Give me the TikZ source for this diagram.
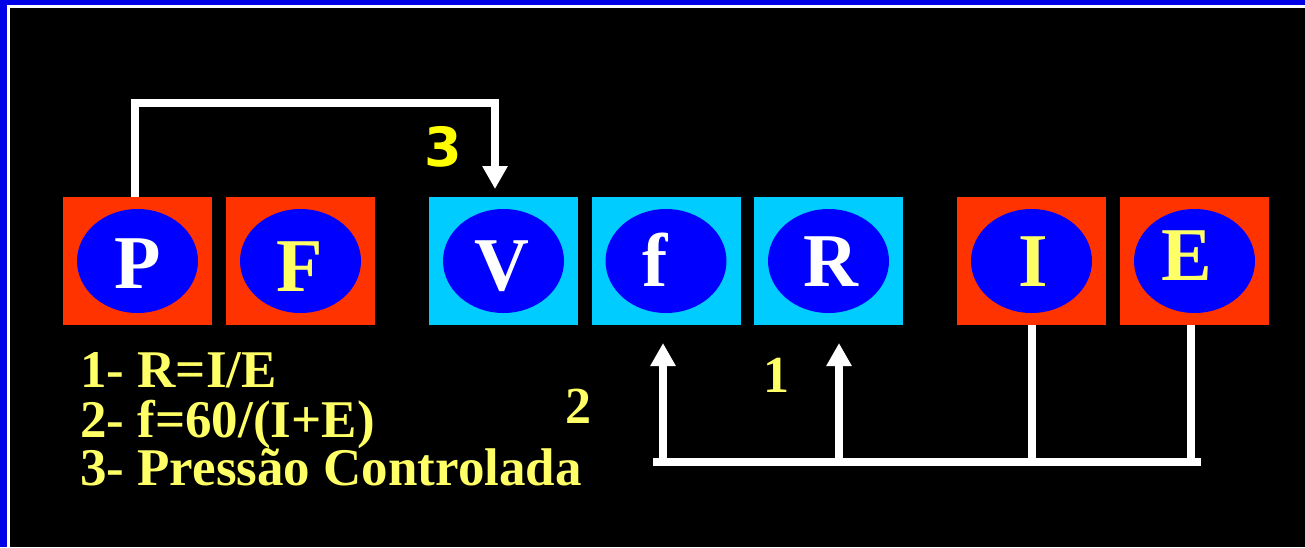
\documentclass[tikz,border=0pt]{standalone}
\usepackage{fontspec}
\setmainfont{Liberation Serif}
\newfontfamily\labsans{DejaVu Sans}
\usetikzlibrary{shapes.geometric,arrows.meta,calc}
\definecolor{bordblue}{RGB}{0,0,230}
\definecolor{boxred}{RGB}{255,51,0}
\definecolor{boxcyan}{RGB}{0,204,255}
\definecolor{ellblue}{RGB}{0,0,255}
\definecolor{txtyellow}{RGB}{255,255,102}
\definecolor{labyellow}{RGB}{255,255,0}
\tikzset{
  cellbox/.style={rectangle, minimum width=149pt, minimum height=128pt, inner sep=0pt, draw=none},
  redbox/.style={cellbox, fill=boxred},
  cyanbox/.style={cellbox, fill=boxcyan},
  oval/.style={ellipse, fill=ellblue, minimum width=121pt, minimum height=104pt, inner sep=0pt, draw=none},
  letter/.style={anchor=base, inner sep=0pt, font=\fontsize{76}{80}\selectfont\bfseries},
  conn/.style={draw=white, line width=8pt},
  tipped/.style={-{Triangle[width=24pt,length=23pt]}},
  legend/.style={anchor=base west, inner sep=0pt, text=txtyellow, font=\fontsize{53}{60}\selectfont\bfseries},
  numlab/.style={anchor=base, inner sep=0pt, text=txtyellow, font=\fontsize{52}{60}\selectfont\bfseries},
}
\newcommand{\mkcell}[7]{%
  \node[#3] (#1) at (#2,261) {};
  \node[oval] (#1o) at (#1.center) {};
  \node[letter, text=#5] (#1l) at (#6,#7) {#4};
}
\begin{document}
\begin{tikzpicture}[x=1pt,y=-1pt]
\useasboundingbox (0,0) rectangle (1305,547);
\fill[bordblue] (0,0) rectangle (1305,547);
\fill[white] (7,5) rectangle (1305,547);
\fill[black] (9.5,7.5) rectangle (1305,547);

\mkcell{P}{137.5}{redbox}{P}{white}{138}{288}
\mkcell{F}{300.5}{redbox}{F}{txtyellow}{299.5}{291}
\mkcell{V}{503.5}{cyanbox}{V}{white}{501.5}{290}
\mkcell{f}{666}{cyanbox}{f}{white}{655}{286}
\mkcell{R}{828.5}{cyanbox}{R}{white}{830.5}{286}
\mkcell{I}{1031.5}{redbox}{I}{txtyellow}{1033}{286}
\mkcell{E}{1194.5}{redbox}{E}{txtyellow}{1187}{280}

% top connector P -> V
\coordinate (tr) at (495,103);
\coordinate (vt) at (495,189);
\draw[conn, tipped] ([xshift=-2.5pt]P.north) |- (tr) -- (vt);

% bottom connectors
\coordinate (bl) at (653,462);
\coordinate (br) at (1201,462);
\coordinate (fa) at (663,343);
\coordinate (ra) at (839,343);
\draw[conn] (bl) -- (br);
\draw[conn] (I.south) -- (I.south |- bl);
\draw[conn] ([xshift=-3.5pt]E.south) -- ([xshift=-3.5pt]E.south |- bl);
\draw[conn, tipped] (fa |- bl) -- (fa);
\draw[conn, tipped] (ra |- bl) -- (ra);

% labels
\node[anchor=base, inner sep=0pt, text=labyellow, font=\labsans\bfseries\fontsize{54}{60}\selectfont] (n3) at (443,166) {3};
\node[numlab] (n1) at (776,392) {1};
\node[numlab] (n2) at (578,423) {2};

\node[legend] (l1) at (80,387) {1- R=I/E};
\node[legend] (l2) at (80,437) {2- f=60/(I+E)};
\node[legend] (l3) at (80,485) {3- Pressão Controlada};
\end{tikzpicture}
\end{document}
